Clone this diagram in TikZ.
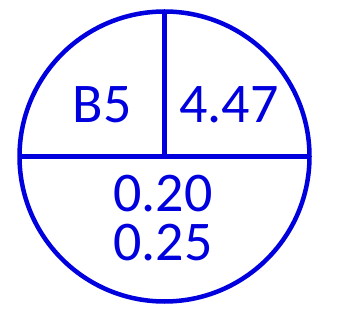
\documentclass[tikz,border=0pt]{standalone}
\usepackage{fontspec}
\setmainfont{Carlito}
\definecolor{penblue}{RGB}{0,0,222}

\begin{document}
\begin{tikzpicture}[x=1pt,y=1pt,
  ring/.style={draw=penblue,line width=4.5pt,circle,minimum size=290pt,inner sep=0pt,outer sep=0pt},
  val/.style={text=penblue,font=\fontsize{56}{48}\selectfont,anchor=base,inner sep=0pt}]
\useasboundingbox (0,0) rectangle (345,324);
\node[ring] (c) at (164.5,167.5) {};
\draw[penblue,line width=4.5pt] (c.west) -- (c.east);
\draw[penblue,line width=4.5pt] (c.north) -- (c.center);
\node[val] (id) at (102,201) {B5};
\node[val] (top) at (229,201) {4.47};
\node[val] (lo1) at (163,112) {0.20};
\node[val] (lo2) at (163,64) {0.25};
\end{tikzpicture}
\end{document}
